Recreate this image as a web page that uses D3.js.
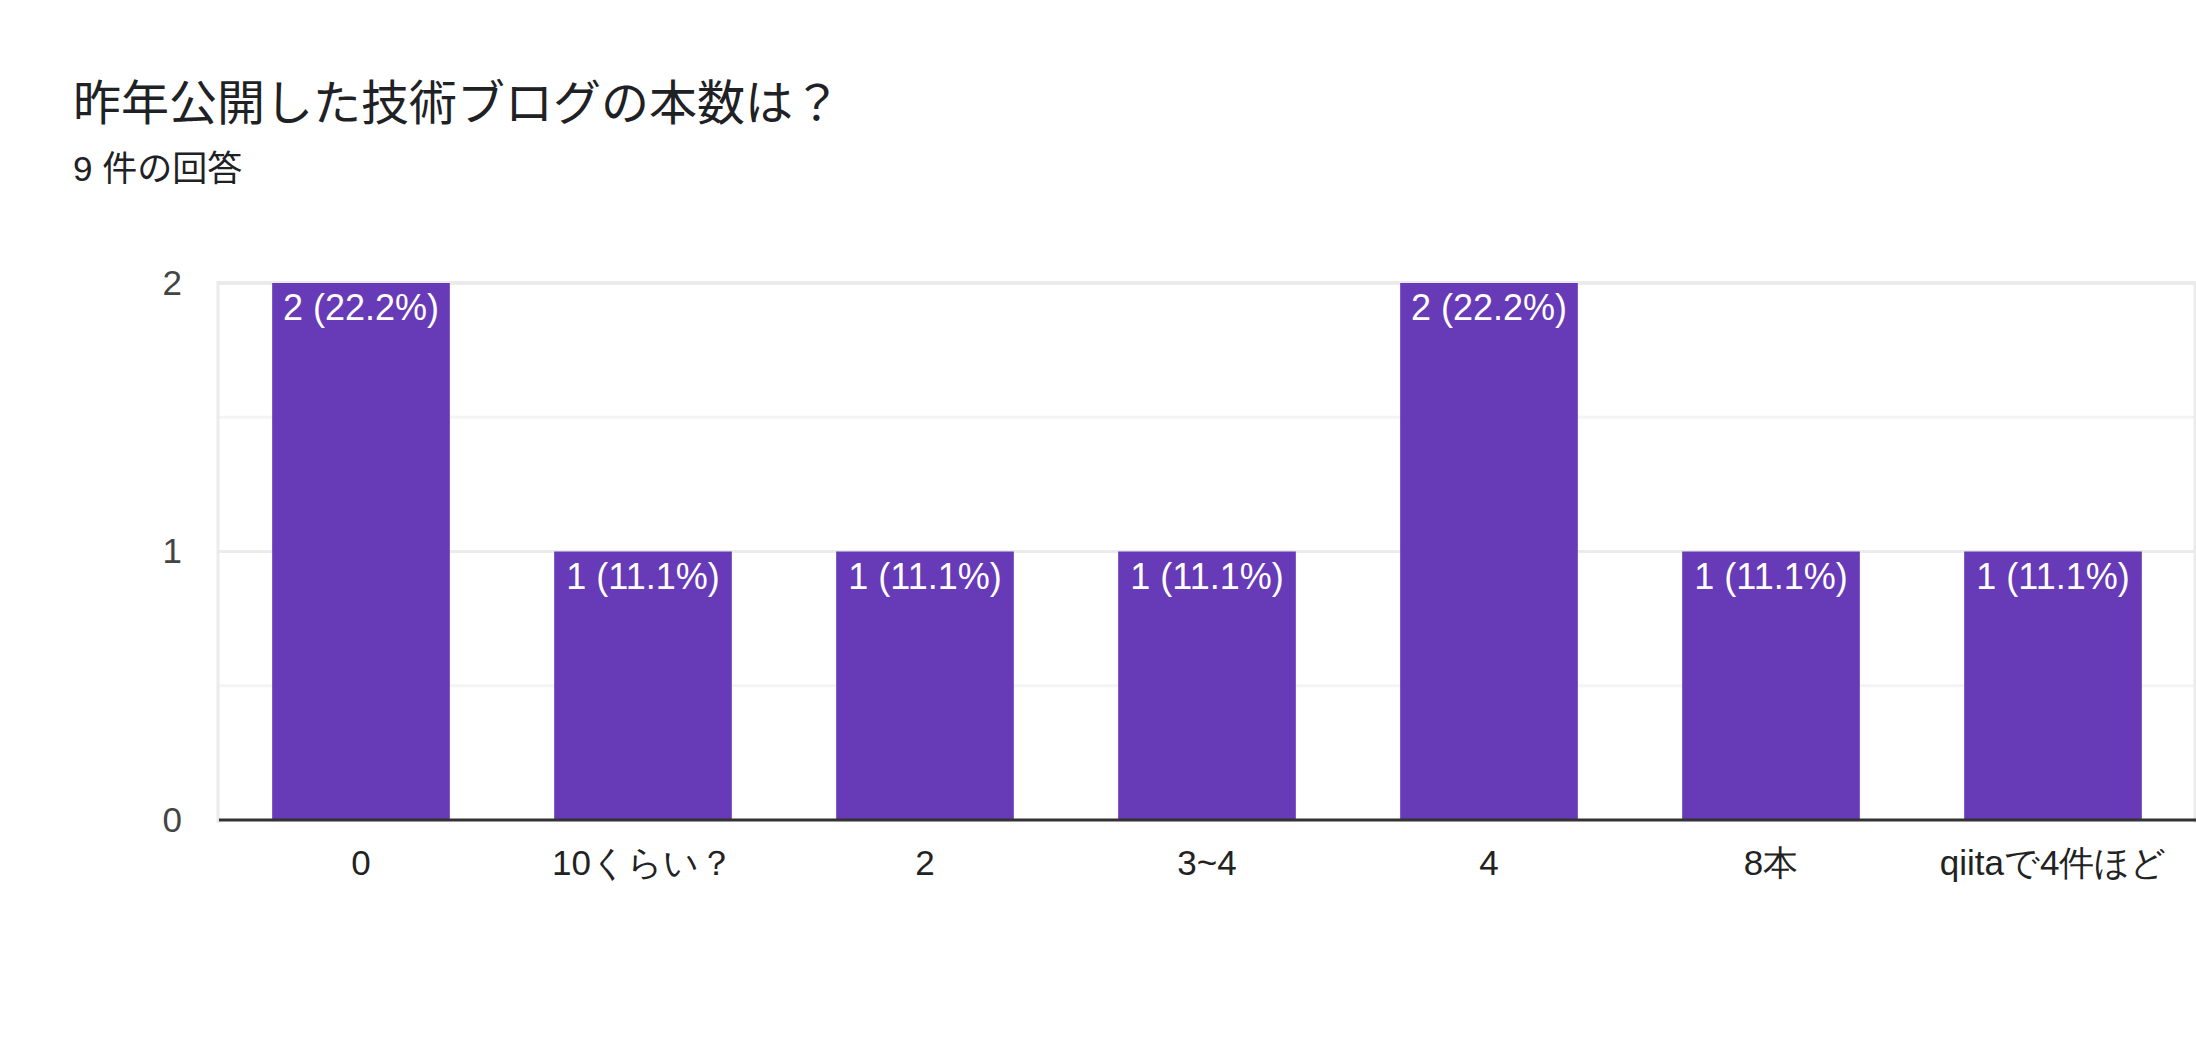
<!DOCTYPE html>
<html>
<head>
<meta charset="utf-8">
<script src="https://cdn.jsdelivr.net/npm/d3@7"></script>
<style>
  body { margin: 0; background: #fff; }
  svg { display: block; font-family: "Liberation Sans", Arial, "Noto Sans CJK JP", sans-serif; }
  .axis .domain { display: none; }
</style>
</head>
<body>
<div id="chart"></div>
<script>
const title = "昨年公開した技術ブログの本数は？";
const subtitle = "9 件の回答";
const categories = ["0", "10くらい？", "2", "3~4", "4", "8本", "qiitaで4件ほど"];
const counts = [2, 1, 1, 1, 2, 1, 1];
const totalResponses = 9;
const yTicks = [0, 1, 2];
const gridTicks = [0.5, 1, 1.5, 2];

const W = 2196, H = 1044;
const plot = { left: 219, right: 2194, top: 283, bottom: 820 };

const data = categories.map((c, i) => ({ cat: c, value: counts[i] }));

const svg = d3.select("#chart")
  .append("svg")
  .attr("width", W)
  .attr("height", H);

svg.append("rect").attr("width", W).attr("height", H).attr("fill", "#fff");

// title block
svg.append("text")
  .attr("x", 73).attr("y", 120)
  .attr("font-family", "'Noto Sans CJK JP', sans-serif")
  .attr("font-size", 48)
  .attr("fill", "#202124")
  .text(title);

svg.append("text")
  .attr("x", 73).attr("y", 181)
  .attr("font-size", 35)
  .attr("fill", "#202124")
  .text(subtitle);

const x = d3.scaleBand()
  .domain(categories)
  .range([plot.left + 1, plot.right])
  .paddingInner(0.37)
  .paddingOuter(0.185);

const y = d3.scaleLinear()
  .domain([0, d3.max(yTicks)])
  .range([plot.bottom, plot.top]);

// frame + gridlines
svg.append("g")
  .selectAll("line")
  .data(gridTicks)
  .enter().append("line")
  .attr("x1", plot.left).attr("x2", plot.right + 1)
  .attr("y1", d => y(d)).attr("y2", d => y(d))
  .attr("stroke", d => Number.isInteger(d) ? "#ebebeb" : "#f4f4f4")
  .attr("stroke-width", d => d === 2 ? 4 : 3);

svg.append("line")
  .attr("x1", plot.left - 1).attr("x2", plot.left - 1)
  .attr("y1", y(2) - 2).attr("y2", plot.bottom + 3)
  .attr("stroke", "#ebebeb").attr("stroke-width", 3);

svg.append("line")
  .attr("x1", plot.right + 1).attr("x2", plot.right + 1)
  .attr("y1", y(2) - 2).attr("y2", plot.bottom + 3)
  .attr("stroke", "#ebebeb").attr("stroke-width", 3);

// bars
svg.append("g")
  .selectAll("rect")
  .data(data)
  .enter().append("rect")
  .attr("x", d => x(d.cat))
  .attr("y", d => y(d.value))
  .attr("width", x.bandwidth())
  .attr("height", d => y(0) - y(d.value))
  .attr("fill", "#673ab7");

// bar labels
svg.append("g")
  .selectAll("text")
  .data(data)
  .enter().append("text")
  .attr("x", d => x(d.cat) + x.bandwidth() / 2)
  .attr("y", d => y(d.value) + 37)
  .attr("text-anchor", "middle")
  .attr("font-size", 36)
  .attr("fill", "#fff")
  .text(d => `${d.value} (${(d.value / totalResponses * 100).toFixed(1)}%)`);

// baseline
svg.append("line")
  .attr("x1", plot.left).attr("x2", W)
  .attr("y1", y(0)).attr("y2", y(0))
  .attr("stroke", "#333").attr("stroke-width", 3);

// axes
svg.append("g")
  .attr("class", "axis y-axis")
  .attr("transform", `translate(${plot.left},0)`)
  .call(d3.axisLeft(y).tickValues(yTicks).tickSize(0).tickPadding(37).tickFormat(d3.format("d")))
  .call(g => g.selectAll("text")
    .attr("font-size", 35)
    .attr("fill", "#444")
    .attr("font-family", null));

svg.append("g")
  .attr("class", "axis x-axis")
  .attr("transform", `translate(0,${plot.bottom})`)
  .call(d3.axisBottom(x).tickSize(0).tickPadding(30))
  .call(g => g.selectAll("text")
    .attr("font-size", 35)
    .attr("fill", "#222")
    .attr("font-family", null));
</script>
</body>
</html>
